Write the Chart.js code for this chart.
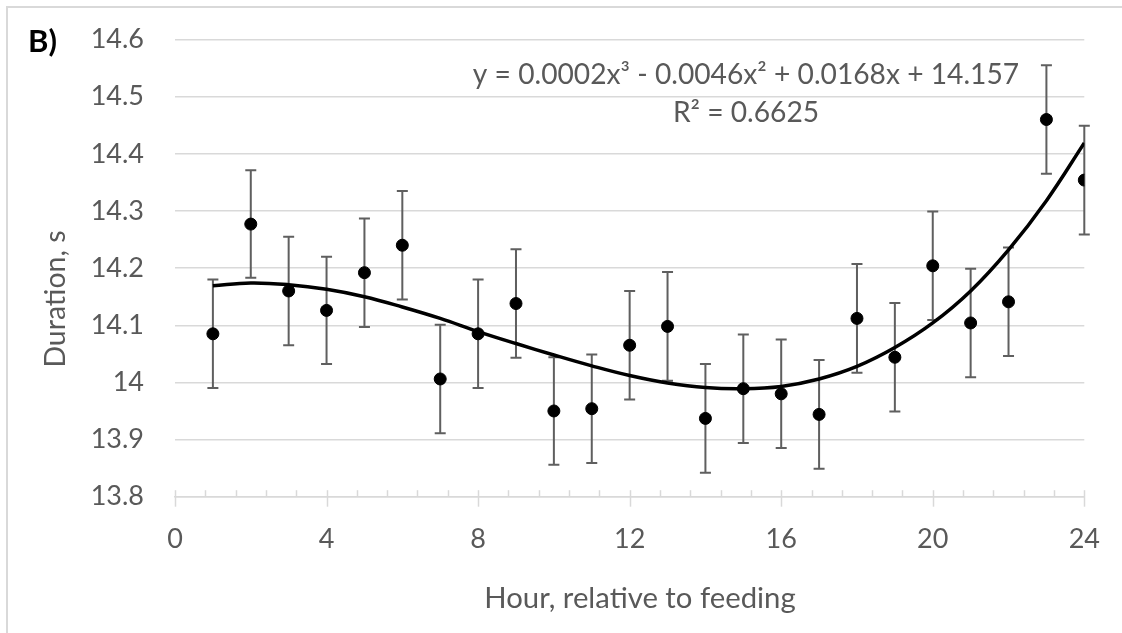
<!DOCTYPE html>
<html>
<head>
<meta charset="utf-8">
<script src="https://cdn.jsdelivr.net/npm/chart.js@4.4.1/dist/chart.umd.min.js"></script>
<style>
  html, body { margin: 0; padding: 0; background: #ffffff; }
  #wrap { width: 1122px; height: 633px; position: relative; }
</style>
</head>
<body>
<div id="wrap"><canvas id="c" width="1122" height="633"></canvas></div>
<script>
// ---- data ----
const hours = [1,2,3,4,5,6,7,8,9,10,11,12,13,14,15,16,17,18,19,20,21,22,23,24];
const duration = [14.085,14.277,14.160,14.126,14.192,14.240,14.006,14.085,14.138,13.950,13.954,14.065,
                  14.098,13.937,13.989,13.980,13.944,14.112,14.044,14.204,14.104,14.141,14.460,14.354];
const errorBars = [0.095,0.094,0.095,0.094,0.095,0.095,0.095,0.095,0.095,0.094,0.095,0.095,
                   0.095,0.095,0.095,0.095,0.095,0.095,0.095,0.095,0.095,0.095,0.095,0.095];
const trendValues = [14.169,14.174,14.171,14.163,14.150,14.132,14.112,14.089,14.068,14.048,14.029,14.012,
                     13.999,13.991,13.989,13.993,14.006,14.028,14.061,14.104,14.160,14.232,14.318,14.419];
const xMajorTicks = [0,4,8,12,16,20,24];
const yTickLabels = ['13.8','13.9','14','14.1','14.2','14.3','14.4','14.5','14.6'];
const equationText = 'y = 0.0002x³ - 0.0046x² + 0.0168x + 14.157';
const r2Text = 'R² = 0.6625';
const panelLabel = 'B)';
const xTitle = 'Hour, relative to feeding';
const yTitle = 'Duration, s';

const FONT = 'Lato, "Open Sans", sans-serif';
const TXT = '#595959';
const GRID = '#d9d9d9';

const decorPlugin = {
  id: 'decor',
  beforeDraw(chart) {
    const ctx = chart.ctx;
    ctx.save();
    ctx.strokeStyle = GRID;
    ctx.lineWidth = 2;
    ctx.beginPath();
    ctx.moveTo(7, 633); ctx.lineTo(7, 7); ctx.lineTo(1122, 7);
    ctx.stroke();
    ctx.restore();
  },
  beforeDatasetsDraw(chart) {
    const ctx = chart.ctx;
    const xs = chart.scales.x, ys = chart.scales.y;
    const bottom = chart.chartArea.bottom;
    ctx.save();
    // x tick marks: major cross the axis, minor above it
    ctx.strokeStyle = GRID;
    ctx.lineWidth = 1.5;
    for (let i = 0; i <= 30; i++) {
      const v = i * 0.8;
      const px = Math.round(xs.getPixelForValue(v)) + 0.5;
      const isMajor = xMajorTicks.some(m => Math.abs(m - v) < 1e-6);
      ctx.beginPath();
      ctx.moveTo(px, bottom - 6.5);
      ctx.lineTo(px, isMajor ? bottom + 10 : bottom);
      ctx.stroke();
    }
    // error bars
    ctx.strokeStyle = '#5f5f5f';
    ctx.lineWidth = 2;
    hours.forEach((h, i) => {
      const px = xs.getPixelForValue(h);
      const top = ys.getPixelForValue(duration[i] + errorBars[i]);
      const bot = ys.getPixelForValue(duration[i] - errorBars[i]);
      ctx.beginPath();
      ctx.moveTo(px, top); ctx.lineTo(px, bot);
      ctx.moveTo(px - 5.5, top); ctx.lineTo(px + 5.5, top);
      ctx.moveTo(px - 5.5, bot); ctx.lineTo(px + 5.5, bot);
      ctx.stroke();
    });
    ctx.restore();
  },
  afterDraw(chart) {
    const ctx = chart.ctx;
    ctx.save();
    ctx.fillStyle = TXT;
    ctx.textAlign = 'center';
    ctx.textBaseline = 'alphabetic';
    ctx.font = '28.2px ' + FONT;
    ctx.fillText(equationText, 746, 84);
    ctx.fillText(r2Text, 746, 122);
    ctx.font = '29.3px ' + FONT;
    ctx.fillText(xTitle, 640, 608);
    ctx.save();
    ctx.translate(64.5, 299);
    ctx.rotate(-Math.PI / 2);
    ctx.font = '28.5px ' + FONT;
    ctx.fillText(yTitle, 0, 0);
    ctx.restore();
    ctx.fillStyle = '#000000';
    ctx.font = 'bold 31px ' + FONT;
    ctx.textAlign = 'left';
    ctx.fillText(panelLabel, 28, 52);
    ctx.restore();
  }
};

new Chart(document.getElementById('c'), {
  type: 'scatter',
  data: {
    datasets: [
      {
        label: 'Duration',
        data: hours.map((h, i) => ({ x: h, y: duration[i] })),
        backgroundColor: '#000000',
        borderColor: '#000000',
        pointRadius: 6,
        pointBorderWidth: 1,
        showLine: false
      },
      {
        label: 'Trend',
        data: hours.map((h, i) => ({ x: h, y: trendValues[i] })),
        showLine: true,
        borderColor: '#000000',
        borderWidth: 3.5,
        pointRadius: 0,
        tension: 0.4,
        fill: false
      }
    ]
  },
  options: {
    responsive: false,
    animation: false,
    devicePixelRatio: 1,
    layout: { padding: { left: 0, right: 37.7, top: 39.5, bottom: 0 } },
    plugins: { legend: { display: false }, tooltip: { enabled: false } },
    scales: {
      x: {
        type: 'linear',
        position: 'bottom',
        min: 0, max: 24,
        afterFit(s) { s.height = 136.3; s.paddingLeft = 0; s.paddingRight = 0; },
        ticks: {
          stepSize: 4,
          autoSkip: false,
          maxRotation: 0,
          padding: 26,
          color: TXT,
          font: { family: FONT, size: 27 },
          callback: (v) => xMajorTicks.includes(v) ? String(v) : ''
        },
        grid: { display: true, drawOnChartArea: false, drawTicks: false, color: GRID },
        border: { display: true, color: GRID, width: 1.5 }
      },
      y: {
        type: 'linear',
        min: 13.8, max: 14.6,
        afterFit(s) { s.width = 175; s.paddingTop = 0; s.paddingBottom = 0; },
        ticks: {
          stepSize: 0.1,
          padding: 31,
          color: TXT,
          font: { family: FONT, size: 27 },
          callback: (v, i) => yTickLabels[i] !== undefined ? yTickLabels[i] : String(+v.toFixed(1))
        },
        grid: { color: GRID, lineWidth: 1.5, drawTicks: false },
        border: { display: false }
      }
    }
  },
  plugins: [decorPlugin]
});
</script>
</body>
</html>
